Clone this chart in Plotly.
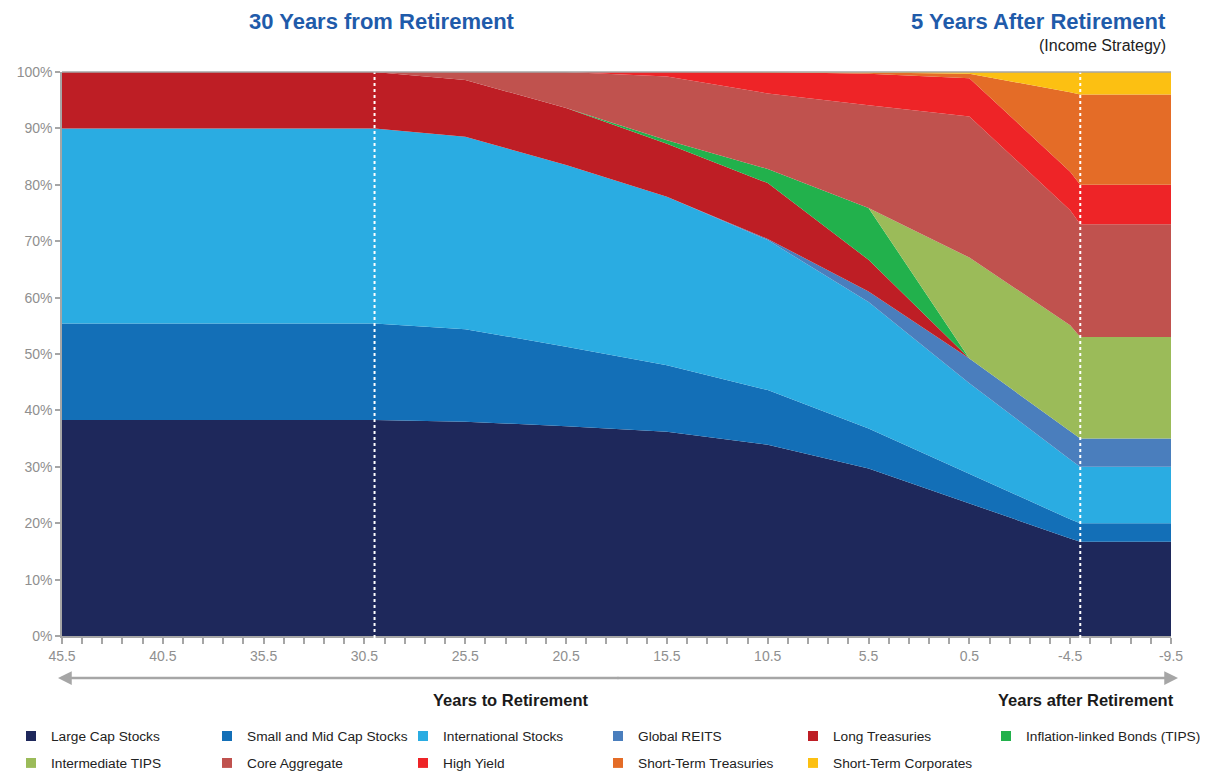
import plotly.graph_objects as go

# ---- data ----
years = [45.5, 30, 25.5, 20.5, 15.5, 10.5, 5.5, 0.5, -4.5, -5, -9.5]

large_cap   = [38.3, 38.3, 38.0, 37.2, 36.2, 33.9, 29.7, 23.5, 17.3, 16.7, 16.7]
small_mid   = [17.1, 17.1, 16.4, 14.1, 11.8, 9.7, 7.1, 5.3, 3.4, 3.3, 3.3]
intl        = [34.6, 34.6, 34.1, 32.2, 29.9, 26.6, 22.4, 16.0, 10.6, 10.0, 10.0]
reits       = [0, 0, 0, 0, 0, 0.2, 1.9, 4.4, 5.0, 5.0, 5.0]
long_treas  = [10.0, 10.0, 10.1, 10.1, 9.4, 9.9, 5.6, 0, 0, 0, 0]
tips        = [0, 0, 0, 0, 0.6, 2.5, 9.2, 0, 0, 0, 0]
int_tips    = [0, 0, 0, 0, 0, 0, 0, 17.9, 18.8, 18.0, 18.0]
core_agg    = [0, 0, 1.4, 6.4, 11.3, 13.4, 18.2, 25.0, 20.4, 20.0, 20.0]
high_yield  = [0, 0, 0, 0, 0.8, 3.8, 5.6, 6.8, 6.8, 7.0, 7.0]
st_treas    = [0, 0, 0, 0, 0, 0, 0.2, 0.8, 14.1, 16.0, 16.0]
st_corp     = [0, 0, 0, 0, 0, 0, 0.1, 0.3, 3.6, 4.0, 4.0]

series_names = ["Large Cap Stocks", "Small and Mid Cap Stocks", "International Stocks",
                "Global REITS", "Long Treasuries", "Inflation-linked Bonds (TIPS)",
                "Intermediate TIPS", "Core Aggregate", "High Yield",
                "Short-Term Treasuries", "Short-Term Corporates"]
series_values = [large_cap, small_mid, intl, reits, long_treas, tips, int_tips,
                 core_agg, high_yield, st_treas, st_corp]
colors = ["#1E285B", "#136FB7", "#2AACE2", "#4A7EBD", "#BE1E25", "#22B14C",
          "#9BBB59", "#C0524E", "#EE2427", "#E46C27", "#FCC012"]

x_tickvals = [45.5, 40.5, 35.5, 30.5, 25.5, 20.5, 15.5, 10.5, 5.5, 0.5, -4.5, -9.5]
x_ticktext = ["45.5", "40.5", "35.5", "30.5", "25.5", "20.5", "15.5", "10.5", "5.5", "0.5", "-4.5", "-9.5"]
y_tickvals = [0, 10, 20, 30, 40, 50, 60, 70, 80, 90, 100]
y_ticktext = [f"{v}%" for v in y_tickvals]
marker_years = [30, -5]

FONT = "Liberation Sans, Arial, sans-serif"
GRAY = "#8F8F8F"
AXIS = "#A6A6A6"

# page has an 8px body margin: figure is 1200x763, page coords = figure coords + 8
OFF = 8
W, H = 1200, 763
L, T = 62 - OFF, 72 - OFF
R = W - (1171 - OFF)
B = H - (636 - OFF)
pw, ph = W - L - R, H - T - B


def px_x(page_x):
    return (page_x - OFF - L) / pw


def px_y(page_y):
    return (H - B - (page_y - OFF)) / ph


def cx(page_x):
    return (page_x - OFF) / W


def cy(page_y):
    return 1 - (page_y - OFF) / H


fig = go.Figure()
for name, vals, col in zip(series_names, series_values, colors):
    fig.add_trace(go.Scatter(
        x=years, y=vals, name=name, mode="lines", stackgroup="one",
        line=dict(width=0, color=col), fillcolor=col, showlegend=False,
        hoverinfo="x+y+name"))

# legend: one small legend per entry, laid out on a 6-column, 2-row grid
legend_col_x = [41, 237, 433, 628, 823, 1016]
legend_row_y = [736, 763]
legend_layouts = {}
for i, (name, col) in enumerate(zip(series_names, colors)):
    key = "legend" if i == 0 else f"legend{i + 1}"
    fig.add_trace(go.Scatter(
        x=[None], y=[None], mode="markers", name=name,
        marker=dict(symbol="square", size=10, color=col),
        legend=key, showlegend=True))
    c, r = i % 6, i // 6
    legend_layouts[key] = dict(
        xref="container", yref="container",
        x=cx(legend_col_x[c] - 30), y=cy(legend_row_y[r]),
        xanchor="left", yanchor="middle", orientation="v", itemwidth=30,
        font=dict(family=FONT, size=13.7, color="#222222"), bgcolor="rgba(0,0,0,0)",
        borderwidth=0)

shapes = []
for yr in marker_years:
    shapes.append(dict(type="line", xref="x", yref="paper", x0=yr, x1=yr,
                       y0=px_y(644), y1=px_y(69),
                       line=dict(color="white", width=2, dash="dot"), layer="above"))
shapes.append(dict(type="line", xref="paper", yref="paper", x0=0, x1=1, y0=1, y1=1,
                   line=dict(color=AXIS, width=1.5), layer="above"))

arrow_y = px_y(678)
arrow_left, arrow_right = 58, 1178
half = (arrow_right - arrow_left) / 2 + 2
annotations = [
    dict(xref="paper", yref="paper", x=px_x(arrow_left), y=arrow_y, ax=half, ay=0,
         text="", showarrow=True, arrowhead=2, arrowsize=1.1, arrowwidth=2.5,
         arrowcolor=AXIS),
    dict(xref="paper", yref="paper", x=px_x(arrow_right), y=arrow_y, ax=-half, ay=0,
         text="", showarrow=True, arrowhead=2, arrowsize=1.1, arrowwidth=2.5,
         arrowcolor=AXIS),
    dict(xref="paper", yref="paper", x=px_x(382), y=px_y(22), text="<b>30 Years from Retirement</b>",
         showarrow=False, xanchor="center", yanchor="middle",
         font=dict(family=FONT, size=22, color="#1F5BAA")),
    dict(xref="paper", yref="paper", x=px_x(1168), y=px_y(22), text="<b>5 Years After Retirement</b>",
         showarrow=False, xanchor="right", yanchor="middle",
         font=dict(family=FONT, size=22, color="#1F5BAA")),
    dict(xref="paper", yref="paper", x=px_x(1168), y=px_y(46), text="(Income Strategy)",
         showarrow=False, xanchor="right", yanchor="middle",
         font=dict(family=FONT, size=16, color="#222222")),
    dict(xref="paper", yref="paper", x=px_x(510), y=px_y(700), text="<b>Years to Retirement</b>",
         showarrow=False, xanchor="center", yanchor="middle",
         font=dict(family=FONT, size=16.5, color="#1A1A1A")),
    dict(xref="paper", yref="paper", x=px_x(1176), y=px_y(700), text="<b>Years after Retirement</b>",
         showarrow=False, xanchor="right", yanchor="middle",
         font=dict(family=FONT, size=16.5, color="#1A1A1A")),
]

fig.update_layout(
    width=W, height=H,
    margin=dict(l=L, r=R, t=T, b=B, pad=0, autoexpand=False),
    paper_bgcolor="white", plot_bgcolor="white",
    font=dict(family=FONT, size=14, color=GRAY),
    showlegend=True,
    shapes=shapes, annotations=annotations,
    xaxis=dict(range=[45.5, -9.5], tickmode="array", tickvals=x_tickvals, ticktext=x_ticktext,
               showgrid=False, zeroline=False, showline=True, linecolor=AXIS, linewidth=1.5,
               ticks="outside", ticklen=6, tickcolor=AXIS, tickwidth=1.5,
               tickfont=dict(family=FONT, size=14, color=GRAY),
               minor=dict(dtick=1, tick0=45.5, ticks="outside", ticklen=6,
                          tickcolor=AXIS, tickwidth=1.5, showgrid=False)),
    yaxis=dict(range=[0, 100], tickmode="array", tickvals=y_tickvals, ticktext=y_ticktext,
               showgrid=False, zeroline=False, showline=True, linecolor=AXIS, linewidth=1.5,
               ticks="outside", ticklen=5, tickcolor=AXIS, tickwidth=1.5,
               tickfont=dict(family=FONT, size=14, color=GRAY)),
    **legend_layouts,
)

fig.write_html("out.html")
